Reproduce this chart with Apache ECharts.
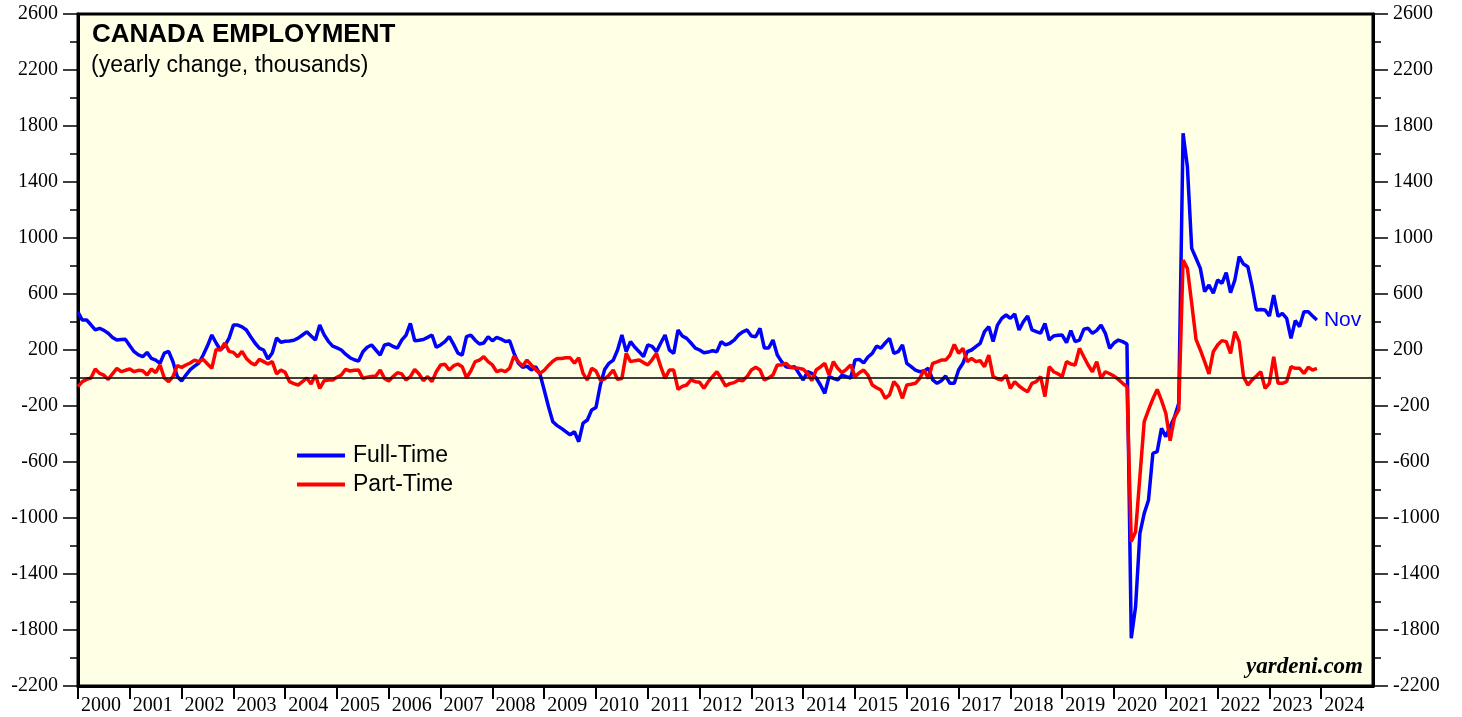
<!DOCTYPE html>
<html>
<head>
<meta charset="utf-8">
<title>Canada Employment</title>
<script src="https://cdn.jsdelivr.net/npm/echarts@6/dist/echarts.min.js"></script>
<style>
  html, body { margin: 0; padding: 0; background: #fff; }
  #chart { width: 1462px; height: 717px; }
</style>
</head>
<body>
<div id="chart"></div>
<script>
// monthly yearly change, thousands; first point is Dec 1999, last is Nov 2023
const startYear = 1999;
const startMonth = 12;

const fullTime = [
  470, 414, 414, 380, 343, 355, 340, 320, 290, 271, 275, 276,
  230, 188, 165, 152, 183, 140, 128, 105, 178, 190, 116, 10,
  -21, 21, 60, 85, 107, 164, 230, 307, 250, 200, 230, 285,
  378, 378, 365, 343, 295, 250, 214, 200, 135, 178, 285, 255,
  262, 265, 270, 285, 307, 330, 300, 271, 378, 310, 262, 228,
  215, 200, 170, 145, 130, 121, 188, 220, 236, 200, 164, 236,
  243, 225, 214, 271, 307, 390, 266, 270, 275, 290, 307, 219,
  236, 260, 295, 240, 178, 164, 295, 307, 270, 243, 250, 295,
  266, 290, 278, 260, 266, 178, 107, 76, 85, 57, 81, 30,
  -86, -205, -312, -340, -360, -383, -407, -383, -455, -323, -300, -228,
  -210, -50, 60, 105, 128, 200, 307, 188, 260, 220, 188, 152,
  236, 226, 188, 250, 307, 200, 176, 343, 300, 283, 250, 214,
  200, 181, 185, 195, 188, 260, 236, 248, 270, 307, 330, 343,
  300, 295, 355, 214, 214, 271, 164, 117, 81, 75, 81, 33,
  -14, 45, 33, 0, -50, -110, 10, -3, -14, 21, 10, 0,
  128, 133, 107, 150, 176, 228, 214, 250, 283, 176, 188, 236,
  105, 81, 57, 45, 50, 69, -14, -38, -20, 14, -38, -38,
  57, 105, 188, 200, 224, 248, 331, 367, 260, 378, 426, 450,
  426, 457, 343, 402, 443, 343, 331, 320, 390, 271, 300, 305,
  307, 252, 338, 260, 271, 348, 355, 319, 340, 378, 319, 212,
  250, 271, 260, 243, -1859, -1633, -1110, -967, -871, -538, -526, -360,
  -419, -348, -280, -180, 1748, 1510, 926, 855, 783, 617, 664, 605,
  700, 676, 752, 610, 700, 867, 814, 795, 652, 486, 490, 486,
  443, 593, 440, 462, 426, 283, 410, 367, 474, 474, 443, 414
];

const partTime = [
  -62, -26, -10, 0, 64, 33, 20, -10, 30, 69, 45, 55,
  64, 45, 55, 52, 21, 64, 38, 93, 0, -26, 10, 88,
  76, 93, 107, 128, 117, 133, 100, 69, 204, 200, 250, 190,
  183, 152, 190, 140, 110, 93, 133, 117, 100, 117, 29, 57,
  40, -26, -40, -50, -26, 0, -43, 21, -74, -20, -14, -14,
  5, 21, 62, 50, 55, 57, -3, 5, 10, 14, 57, -3,
  -21, 10, 38, 29, -14, 10, 62, 29, -19, 10, -26, 45,
  93, 98, 57, 86, 100, 81, 2, 50, 117, 128, 152, 117,
  93, 45, 57, 45, 70, 157, 117, 86, 128, 93, 60, 33,
  55, 90, 120, 140, 140, 145, 145, 105, 145, 33, -14, 69,
  50, -14, -7, 20, 57, -10, -3, 176, 117, 124, 128, 110,
  93, 130, 176, 81, -3, 57, 57, -81, -60, -50, -14, -26,
  -30, -74, -26, 10, 45, -3, -57, -40, -33, -14, -19, 10,
  57, 76, 57, -14, 0, 21, 93, 93, 105, 76, 72, 69,
  62, 33, -19, 57, 80, 105, 21, 117, 69, 38, 62, 93,
  10, 38, 57, 21, -50, -70, -86, -145, -121, -26, -62, -145,
  -50, -45, -38, -3, 57, -3, 105, 115, 128, 128, 164, 240,
  176, 212, 117, 140, 117, 124, 81, 164, 10, -5, -14, 21,
  -74, -26, -57, -80, -98, -38, -26, 10, -133, 81, 45, 30,
  10, 117, 100, 93, 212, 152, 93, 45, 117, -3, 45, 30,
  14, -10, -38, -62, -1169, -1098, -705, -312, -228, -150, -81, -160,
  -252, -448, -283, -228, 843, 783, 533, 276, 200, 117, 29, 188,
  236, 267, 260, 176, 331, 260, 10, -50, -14, 15, 45, -74,
  -38, 152, -38, -38, -26, 81, 69, 69, 33, 76, 57, 69
];

const years = [2000, 2001, 2002, 2003, 2004, 2005, 2006, 2007, 2008, 2009, 2010, 2011,
  2012, 2013, 2014, 2015, 2016, 2017, 2018, 2019, 2020, 2021, 2022, 2023, 2024];
const yTicks = { min: -2200, max: 2600, step: 400 };
const lastLabel = 'Nov';

// x = months since start of 2000, each point sits at its month end
const toPoints = (arr) => arr.map((v, i) => {
  const monthStart = (startYear - years[0]) * 12 + (startMonth - 1) + i;
  return [monthStart + 1, v];
});

const chart = echarts.init(document.getElementById('chart'));

const serif = 'Liberation Serif';
const sans = 'Liberation Sans';

const yAxisBase = {
  type: 'value',
  min: yTicks.min,
  max: yTicks.max,
  interval: yTicks.step,
  splitLine: { show: false },
  axisLine: { show: true, lineStyle: { color: '#000', width: 3 } },
  axisTick: { show: true, length: 15, lineStyle: { color: '#000', width: 1.5 } },
  minorTick: { show: true, splitNumber: 2, length: 8, lineStyle: { color: '#000', width: 1.5 } },
  axisLabel: { color: '#000', fontFamily: serif, fontSize: 20, margin: 20, formatter: (v) => String(v) }
};

chart.setOption({
  animation: false,
  backgroundColor: '#fff',
  grid: {
    left: 78, right: 89, top: 14, bottom: 31,
    show: true, backgroundColor: '#ffffe6', borderColor: '#000', borderWidth: 3
  },
  xAxis: {
    type: 'value',
    min: 0,
    max: years.length * 12,
    interval: 12,
    splitLine: { show: false },
    axisLine: { show: true, onZero: false, lineStyle: { color: '#000', width: 3 } },
    axisTick: { show: true, length: 13, lineStyle: { color: '#000', width: 2 } },
    axisLabel: {
      color: '#000', fontFamily: serif, fontSize: 20, margin: 10,
      align: 'left', padding: [0, 0, 0, 3],
      showMaxLabel: false,
      formatter: (v) => String(years[0] + v / 12)
    }
  },
  yAxis: [
    Object.assign({}, yAxisBase, { position: 'left' }),
    Object.assign({}, yAxisBase, { position: 'right' })
  ],
  legend: {
    orient: 'vertical',
    left: 292,
    top: 439,
    icon: 'rect',
    itemWidth: 48,
    itemHeight: 4,
    itemGap: 6,
    textStyle: { color: '#000', fontFamily: sans, fontSize: 23, padding: [0, 0, 0, 3] },
    data: ['Full-Time', 'Part-Time']
  },
  graphic: [
    { type: 'text', left: 92, top: 22,
      style: { text: 'CANADA EMPLOYMENT', font: 'bold 26px "Liberation Sans"', fill: '#000' } },
    { type: 'text', left: 91, top: 54,
      style: { text: '(yearly change, thousands)', font: '23px "Liberation Sans"', fill: '#000' } },
    { type: 'text', right: 99, top: 656,
      style: { text: 'yardeni.com', font: 'italic bold 23px "Liberation Serif"', fill: '#000' } }
  ],
  series: [
    {
      name: 'Full-Time',
      type: 'line',
      data: toPoints(fullTime),
      symbol: 'none',
      lineStyle: { color: '#0000ff', width: 3.5 },
      itemStyle: { color: '#0000ff' },
      z: 3,
      endLabel: {
        show: true, formatter: lastLabel, color: '#0000ff',
        fontFamily: sans, fontSize: 21, distance: 7
      },
      markLine: {
        silent: true, symbol: 'none', label: { show: false },
        lineStyle: { color: '#000', width: 1.5, type: 'solid' },
        data: [{ yAxis: 0 }]
      }
    },
    {
      name: 'Part-Time',
      type: 'line',
      data: toPoints(partTime),
      symbol: 'none',
      lineStyle: { color: '#ff0000', width: 3.5 },
      itemStyle: { color: '#ff0000' },
      z: 4
    }
  ]
});
</script>
</body>
</html>
